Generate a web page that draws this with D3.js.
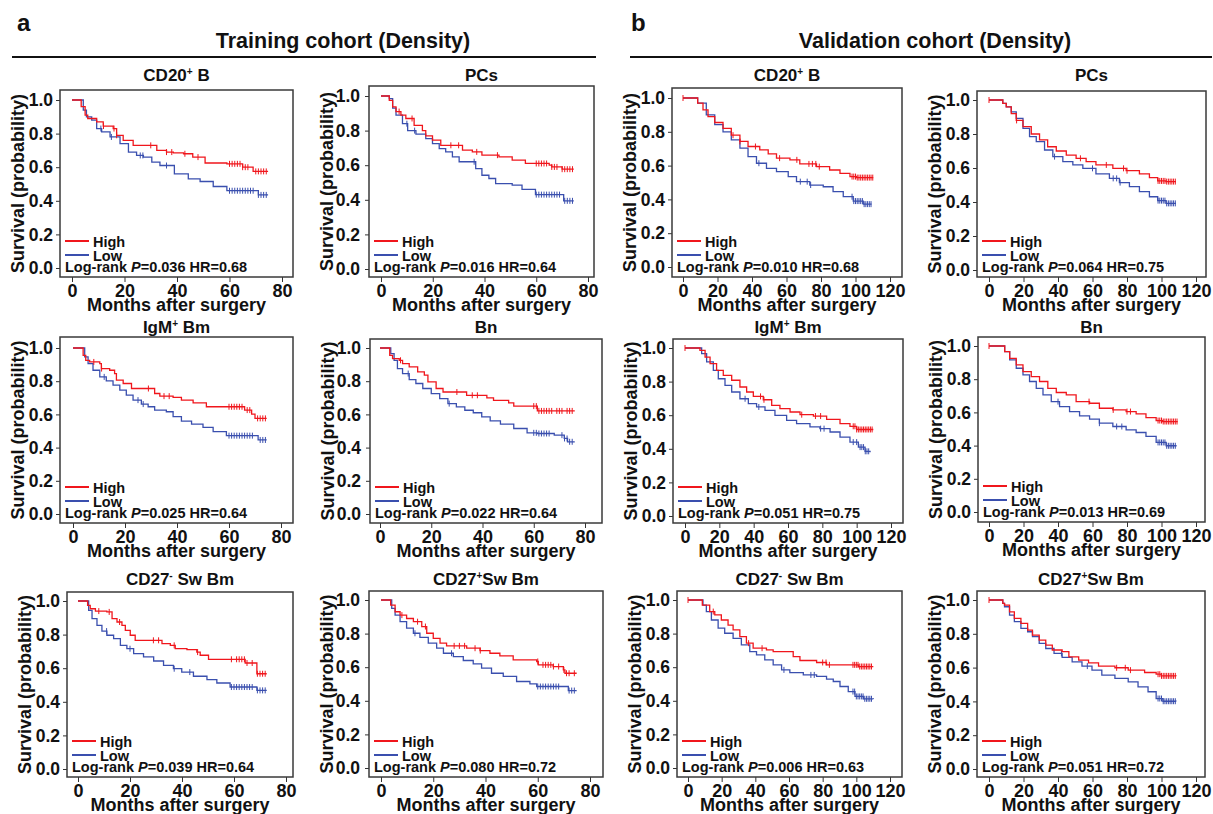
<!DOCTYPE html>
<html lang="en">
<head>
<meta charset="UTF-8">
<title>Training and validation cohort survival (Density)</title>
<style>
    body { margin: 0; background: #fff; }
    svg text { font-family: "Liberation Sans", Arial, sans-serif; font-weight: bold; fill: #111; }
</style>
</head>
<body>
<svg id="chart" width="1213" height="814"></svg>
<script src="https://d3js.org/d3.v7.min.js"></script>
<script>
// ---- data: [months, survival] step points, plus censor times ----
const cohortNames = ["Training cohort (Density)", "Validation cohort (Density)"];
const cohortLetters = ["a", "b"];
const panelTitles = [["CD20", "+", " B"], ["PCs"], ["IgM", "+", " Bm"], ["Bn"], ["CD27", "-", " Sw Bm"], ["CD27", "+", "Sw Bm"]];
const groupLabels = ["High", "Low"];
const yTicks = [0, 0.2, 0.4, 0.6, 0.8, 1.0];
const xMaxByCohort = [80, 120];

const trainP = ["0.036", "0.016", "0.025", "0.022", "0.039", "0.080"];
const trainHR = ["0.68", "0.64", "0.64", "0.64", "0.64", "0.72"];
const validP = ["0.010", "0.064", "0.051", "0.013", "0.006", "0.051"];
const validHR = ["0.68", "0.75", "0.75", "0.69", "0.63", "0.72"];

// training cohort
const trCD20High = [[0,1],[3.5,0.96],[5,0.91],[6,0.89],[9.4,0.87],[11.9,0.845],[15.7,0.83],[17,0.79],[19.5,0.76],[23.3,0.73],[32.3,0.70],[36,0.69],[38.6,0.685],[42.5,0.68],[46,0.66],[50.7,0.625],[59,0.62],[65,0.60],[69,0.575],[74.7,0.575]];
const trCD20Low = [[0,1],[4.3,0.94],[5.5,0.90],[7.5,0.88],[9.4,0.83],[11.3,0.81],[14.5,0.78],[18.3,0.74],[21.5,0.69],[24.6,0.67],[27.2,0.66],[30.4,0.63],[33.5,0.61],[39,0.56],[44.3,0.53],[48.8,0.515],[53.8,0.485],[59,0.46],[71,0.435],[74.7,0.435]];
const trPCsHigh = [[0,1],[3.2,0.975],[4.5,0.937],[5.8,0.91],[7.7,0.89],[9.6,0.87],[12.8,0.83],[16,0.80],[17.3,0.77],[19.9,0.745],[23.1,0.715],[31.5,0.687],[35.3,0.677],[39,0.658],[45.6,0.648],[50.7,0.629],[55.8,0.61],[65,0.60],[66,0.59],[70,0.577],[74.5,0.577]];
const trPCsLow = [[0,1],[3.2,0.985],[4.5,0.93],[5.8,0.89],[8.3,0.84],[10.3,0.80],[13.5,0.78],[17.3,0.754],[19.9,0.725],[22.5,0.696],[25,0.677],[27.6,0.648],[30.2,0.62],[36.6,0.58],[39,0.542],[41.7,0.523],[44.3,0.494],[50.7,0.485],[54.5,0.46],[59.7,0.43],[70.6,0.394],[74.5,0.394]];
const trIgMHigh = [[0,1],[3.9,0.956],[4.9,0.926],[6.4,0.916],[10.3,0.906],[10.9,0.876],[14.1,0.866],[16,0.846],[16.7,0.806],[19.3,0.786],[22.5,0.756],[31.4,0.726],[33.4,0.71],[38.5,0.702],[41.7,0.686],[46.2,0.67],[51.3,0.646],[66,0.626],[68.7,0.602],[70,0.576],[74.5,0.576]];
const trIgMLow = [[0,1],[4.5,0.946],[5.8,0.906],[7.7,0.866],[10.3,0.826],[12.8,0.802],[15.4,0.776],[18,0.746],[20.5,0.716],[23.1,0.686],[26.3,0.662],[28.9,0.646],[31.4,0.626],[35.9,0.616],[38.5,0.586],[41.7,0.56],[45.6,0.542],[50,0.522],[53.9,0.496],[59,0.472],[71.2,0.446],[74.5,0.446]];
const trBnHigh = [[0,1],[3.8,0.956],[4.9,0.936],[7.5,0.926],[8.8,0.906],[11.4,0.886],[14.7,0.856],[17.3,0.836],[18.7,0.796],[21.9,0.756],[24.6,0.735],[33.8,0.715],[41.7,0.70],[44.3,0.685],[50.2,0.669],[52.2,0.65],[61.4,0.621],[76,0.621]];
const trBnLow = [[0,1],[4.2,0.966],[5.5,0.926],[6.8,0.876],[8.8,0.846],[11.4,0.81],[14,0.786],[16.7,0.756],[20,0.725],[23.3,0.695],[26.5,0.665],[29.8,0.645],[33.1,0.625],[36.4,0.61],[39.7,0.585],[43,0.561],[47,0.541],[52.2,0.515],[57.4,0.489],[61.4,0.485],[68,0.475],[71.9,0.455],[73.2,0.435],[76,0.435]];
const trCD27nHigh = [[0,1],[3.7,0.974],[4.7,0.954],[6.7,0.94],[11.1,0.935],[13.1,0.895],[15,0.875],[16.9,0.855],[18.2,0.825],[20.1,0.796],[22,0.766],[32.3,0.746],[35.5,0.736],[37.4,0.716],[41.9,0.71],[45.7,0.696],[47,0.677],[50.2,0.653],[64.3,0.631],[68.8,0.567],[72.6,0.567]];
const trCD27nLow = [[0,1],[4.1,0.944],[5.4,0.895],[7.3,0.855],[9.2,0.821],[11.1,0.796],[13.7,0.776],[16.3,0.736],[18.8,0.716],[21.4,0.687],[25.2,0.667],[29.1,0.643],[32.9,0.617],[36.7,0.597],[39.9,0.577],[44.4,0.552],[49.6,0.532],[53.4,0.512],[58.5,0.488],[68.8,0.468],[72.6,0.468]];
const trCD27pHigh = [[0,1],[3.7,0.97],[5.4,0.93],[7.3,0.91],[9.8,0.89],[12.4,0.871],[15.6,0.842],[17.5,0.802],[20,0.772],[22.6,0.743],[25.1,0.727],[32.8,0.713],[37.9,0.699],[41.7,0.683],[45.5,0.667],[50.6,0.644],[59.6,0.634],[60.2,0.614],[65.9,0.604],[69.8,0.584],[70.4,0.564],[74.9,0.564]];
const trCD27pLow = [[0,1],[4.1,0.95],[5.4,0.91],[7.3,0.871],[9.8,0.832],[12.4,0.802],[14.9,0.778],[18.1,0.743],[21.3,0.713],[23.9,0.683],[27.7,0.663],[31.5,0.64],[35.3,0.62],[38.5,0.594],[42.3,0.564],[46.8,0.545],[51.9,0.515],[57,0.501],[59.6,0.485],[71.7,0.461],[74.9,0.461]];

// validation cohort
const vaCD20High = [[0,1],[8.5,0.97],[11.6,0.93],[14.5,0.89],[18.4,0.855],[23.2,0.82],[28,0.78],[33,0.743],[37.7,0.713],[44.5,0.693],[49.4,0.669],[54.2,0.644],[62,0.634],[67.7,0.61],[77.4,0.594],[85,0.574],[91,0.554],[96.8,0.535],[100.6,0.529],[110.3,0.529]];
const vaCD20Low = [[0,1],[8.5,0.97],[13.5,0.90],[18.4,0.842],[23.2,0.80],[28,0.752],[33,0.703],[37.7,0.653],[42.6,0.614],[48.4,0.584],[54.2,0.564],[61,0.535],[65.8,0.505],[73.5,0.485],[81.3,0.475],[87,0.446],[92.9,0.416],[98.7,0.39],[104.5,0.372],[109.3,0.372]];
const vaPCsHigh = [[0,1],[8,0.98],[10,0.96],[12.9,0.92],[15.8,0.88],[19.7,0.843],[24.5,0.80],[29.3,0.765],[34,0.725],[39,0.70],[44.8,0.676],[50.5,0.657],[56.3,0.637],[62,0.618],[71.8,0.598],[79.5,0.584],[87.2,0.565],[93,0.543],[97.8,0.524],[102.6,0.52],[108.4,0.52]];
const vaPCsLow = [[0,1],[8,0.98],[10,0.96],[12.9,0.93],[15.8,0.892],[19.7,0.833],[23.5,0.784],[27.4,0.755],[32.2,0.706],[37,0.667],[42.8,0.637],[48.6,0.618],[54.4,0.598],[62,0.565],[69.8,0.539],[75.6,0.514],[81.4,0.49],[87.2,0.461],[93,0.431],[97.8,0.408],[102.6,0.392],[108.4,0.392]];
const vaIgMHigh = [[0,1],[8.7,0.986],[11.7,0.946],[14.6,0.907],[18.4,0.867],[22.3,0.837],[27.2,0.808],[32,0.768],[35.9,0.738],[39.8,0.712],[45.6,0.692],[50.5,0.659],[55.3,0.639],[61.2,0.619],[67,0.603],[74.8,0.595],[82.5,0.575],[90.3,0.55],[96.1,0.534],[100,0.515],[109.7,0.515]];
const vaIgMLow = [[0,1],[9.7,0.966],[12.6,0.917],[16.5,0.867],[19.4,0.817],[23.3,0.778],[27.2,0.738],[32,0.698],[36.9,0.669],[41.7,0.649],[46.6,0.629],[52.4,0.599],[59.2,0.569],[65,0.55],[72.8,0.53],[78.6,0.52],[84.5,0.50],[90.3,0.47],[96.1,0.44],[101,0.41],[104.9,0.385],[107.8,0.38]];
const vaBnHigh = [[0,1],[9.1,0.966],[12,0.926],[15.8,0.886],[19.7,0.846],[24.5,0.816],[29.3,0.786],[34.1,0.745],[39,0.72],[44.8,0.705],[50.5,0.665],[58.3,0.655],[64,0.625],[71.8,0.615],[79.5,0.605],[85.3,0.591],[91,0.569],[96.9,0.551],[100.7,0.545],[109.4,0.545]];
const vaBnLow = [[0,1],[9.1,0.966],[12,0.916],[15.8,0.866],[19.7,0.826],[23.5,0.786],[27.4,0.745],[31.3,0.705],[36.1,0.665],[40.9,0.635],[46.7,0.605],[52.5,0.579],[58.3,0.559],[64,0.535],[71.8,0.515],[79.5,0.495],[85.3,0.479],[91,0.455],[96.9,0.419],[102.7,0.399],[108.4,0.395]];
const vaCD27nHigh = [[0,1],[8.5,0.97],[12.9,0.931],[15.9,0.911],[19.8,0.881],[23.8,0.851],[26.8,0.822],[30.8,0.782],[34.7,0.743],[38.7,0.713],[46.6,0.703],[50.6,0.693],[62.5,0.663],[66.5,0.64],[76.4,0.628],[82.3,0.614],[101.2,0.604],[110.1,0.604]];
const vaCD27nLow = [[0,1],[8.9,0.97],[10.9,0.931],[13.9,0.881],[17.9,0.832],[21.8,0.802],[26.8,0.772],[31.7,0.733],[36.7,0.693],[40.7,0.673],[45.6,0.644],[50.6,0.614],[55.6,0.584],[60.5,0.568],[68.5,0.554],[76.4,0.545],[82.3,0.529],[86.3,0.515],[90.3,0.485],[95.2,0.455],[99.2,0.426],[104.2,0.412],[110.1,0.41]];
const vaCD27pHigh = [[0,1],[8,0.98],[9,0.97],[11.9,0.93],[14.7,0.891],[18.5,0.862],[22.4,0.822],[25.2,0.792],[29.1,0.763],[32.9,0.733],[36.7,0.704],[42.4,0.694],[46.3,0.664],[52,0.644],[57.7,0.628],[63.5,0.609],[73,0.599],[80.7,0.585],[90.2,0.571],[96.9,0.561],[99.8,0.551],[108.4,0.549]];
const vaCD27pLow = [[0,1],[8,0.98],[9,0.96],[11.9,0.911],[14.7,0.872],[18.5,0.832],[22.4,0.812],[25.2,0.783],[29.1,0.743],[32.9,0.713],[37.7,0.684],[42.4,0.66],[48.2,0.634],[53.9,0.609],[59.7,0.585],[65.4,0.555],[73,0.536],[80.7,0.516],[86.4,0.486],[92.2,0.457],[96.9,0.417],[100.8,0.401],[108.4,0.40]];

// censor times (months)
const trCensHigh = [
    [12,16,17,30,36,38,43,48,60,61,62,63,64,65,66,67,70,71,72,73,74],
    [7,12,27,30,37,45,60,61,62,63,64,66,67,68,70,71,72,73,74],
    [8,11,29,35,37,60,61,62,63,64,65,67,68,71,72,73,74],
    [8,30,36,38,60,61,62,63,64,65,66,67,69,70,71,73,74,75],
    [8,12,16,29,31,37,46,59,61,62,63,64,65,67,69,70,71,72],
    [8,14,17,28,30,32,36,38,60,62,63,64,65,66,68,70,71,72,74]
];
const trCensLow = [
    [11,15,26,27,36,60,61,62,63,64,65,66,67,68,69,71,72,73,74],
    [10,13,36,60,61,62,63,64,65,66,67,68,69,71,72,73,74],
    [12,25,27,60,61,62,63,64,65,66,67,68,69,72,73,74],
    [11,27,60,61,62,63,64,65,66,71,72,73,74,75],
    [11,20,37,43,59,60,61,62,63,64,65,66,67,69,70,71,72],
    [13,27,60,61,62,63,64,65,66,67,68,72,73,74]
];
const vaCensHigh = [
    [0,29,33,42,56,66,73,75,77,79,98,99,100,101,102,103,104,105,106,107,108,109,110],
    [0,16,53,68,78,80,98,99,100,101,102,103,104,105,106,107,108],
    [0,44,46,68,76,79,98,99,100,101,102,103,104,105,106,107,108,109],
    [0,58,72,80,82,98,99,100,101,102,103,104,105,106,107,108,109],
    [0,15,36,44,80,82,84,98,99,100,101,102,103,104,105,106,107,108,109],
    [0,74,79,82,98,99,100,101,102,103,104,105,106,107,108]
];
const vaCensLow = [
    [44,68,72,74,98,99,100,101,102,103,104,105,106,107,108,109],
    [38,60,72,74,76,98,99,100,101,102,103,104,105,106,107,108],
    [35,43,79,81,98,100,102,103,104,105,106,107],
    [40,64,74,77,98,99,100,101,102,103,104,105,106,107,108],
    [57,73,75,98,99,100,101,102,103,104,105,106,107,108,109],
    [42,57,98,99,100,101,102,103,104,105,106,107,108]
];

const curvesHigh = [
    [trCD20High, trPCsHigh, trIgMHigh, trBnHigh, trCD27nHigh, trCD27pHigh],
    [vaCD20High, vaPCsHigh, vaIgMHigh, vaBnHigh, vaCD27nHigh, vaCD27pHigh]
];
const curvesLow = [
    [trCD20Low, trPCsLow, trIgMLow, trBnLow, trCD27nLow, trCD27pLow],
    [vaCD20Low, vaPCsLow, vaIgMLow, vaBnLow, vaCD27nLow, vaCD27pLow]
];
const censHigh = [trCensHigh, vaCensHigh];
const censLow = [trCensLow, vaCensLow];
const pVals = [trainP, validP];
const hrVals = [trainHR, validHR];

// ---- layout (pixels): plot box, x range, y range for each panel ----
const boxes = [
    [[60,90,293,277],[369,86,594,277],[60,337,293,523],[370,339,602,523],[67,592,293,777],[369,591,603,777]],
    [[672,88,902,277],[977,91,1206,277],[673,339,903,523],[978,337,1205,522],[677,591,902,777],[977,591,1205,777]]
];
const xPix = [
    [[72,282],[381,588],[73,281],[380,585],[78,286],[381,590]],
    [[683,890],[989,1196],[685,891],[989,1196],[688,890],[989,1196]]
];
const yPix = [
    [[100,268],[96,269],[348,514],[348,514],[601,769],[600,768]],
    [[98,267],[100,270],[348,516],[346,512],[600,768],[600,769]]
];
const titleBase = [81, 333, 585];
const colors = { High: "#f0161c", Low: "#3a4fae" };

const svg = d3.select("#chart");

// cohort headers
const headerX = [343, 935];
const headerLine = [[12, 596], [630, 1212]];
const letterX = [17, 631];
cohortNames.forEach((name, c) => {
    svg.append("text").attr("x", letterX[c]).attr("y", 31)
        .style("font-size", "24px").text(cohortLetters[c]);
    svg.append("text").attr("x", headerX[c]).attr("y", 48)
        .attr("text-anchor", "middle").style("font-size", "21.5px").text(name);
    svg.append("line")
        .attr("x1", headerLine[c][0]).attr("x2", headerLine[c][1])
        .attr("y1", 57).attr("y2", 57)
        .attr("stroke", "#111").attr("stroke-width", 2);
});

function survAt(steps, t) {
    let s = 1;
    for (const [tt, ss] of steps) {
        if (tt <= t) s = ss; else break;
    }
    return s;
}

for (let c = 0; c < 2; c++) {
    for (let i = 0; i < 6; i++) {
        const [l, t, r, b] = boxes[c][i];
        const xMax = xMaxByCohort[c];
        const x = d3.scaleLinear().domain([0, xMax]).range(xPix[c][i]);
        const y = d3.scaleLinear().domain([1, 0]).range(yPix[c][i]);
        const row = Math.floor(i / 2);
        const g = svg.append("g");
        const cx = (l + r) / 2;

        // panel title with superscript
        const tt = g.append("text").attr("x", cx).attr("y", titleBase[row])
            .attr("text-anchor", "middle").style("font-size", "17px");
        const parts = panelTitles[i];
        tt.append("tspan").text(parts[0]);
        if (parts.length > 1) {
            tt.append("tspan").attr("dy", -6).style("font-size", "10px").text(parts[1]);
            tt.append("tspan").attr("dy", 6).text(parts[2]);
        }

        // y axis
        const yAxis = g.append("g").attr("transform", `translate(${l},0)`)
            .call(d3.axisLeft(y).tickValues(yTicks).tickFormat(d3.format(".1f"))
                .tickSize(4).tickSizeOuter(0).tickPadding(i % 2 === 1 && c === 0 ? 5 : 3));
        yAxis.select(".domain").remove();
        yAxis.selectAll("text").style("font-size", "17.5px").attr("fill", "#111");
        yAxis.selectAll("line").attr("stroke", "#333");

        // x axis
        const xAxis = g.append("g").attr("transform", `translate(0,${b})`)
            .call(d3.axisBottom(x).tickValues(d3.range(0, xMax + 1, 20))
                .tickSize(5).tickSizeOuter(0).tickPadding(2));
        xAxis.select(".domain").remove();
        xAxis.selectAll("text").style("font-size", "18px").attr("fill", "#111");
        xAxis.selectAll("line").attr("stroke", "#333");

        // box
        g.append("rect").attr("x", l).attr("y", t)
            .attr("width", r - l).attr("height", b - t)
            .attr("fill", "none").attr("stroke", "#3a3a3a").attr("stroke-width", 1.5);

        // axis titles
        g.append("text").attr("x", cx).attr("y", b + 34)
            .attr("text-anchor", "middle").style("font-size", "18px")
            .text("Months after surgery");
        g.append("text")
            .attr("transform", `translate(${l - 42},${(t + b) / 2}) rotate(-90)`)
            .attr("text-anchor", "middle").attr("dy", "0.35em")
            .style("font-size", "18px").text("Survival (probability)");

        // curves
        const line = d3.line().x(d => x(d[0])).y(d => y(d[1])).curve(d3.curveStepAfter);
        const series = [
            { key: "Low", steps: curvesLow[c][i], cens: censLow[c][i] },
            { key: "High", steps: curvesHigh[c][i], cens: censHigh[c][i] }
        ];
        series.forEach(sr => {
            g.append("path").attr("d", line(sr.steps))
                .attr("fill", "none").attr("stroke", colors[sr.key]).attr("stroke-width", 1.3);
            g.selectAll(null).data(sr.cens).enter().append("line")
                .attr("x1", d => x(d)).attr("x2", d => x(d))
                .attr("y1", d => y(survAt(sr.steps, d)) - 3)
                .attr("y2", d => y(survAt(sr.steps, d)) + 3)
                .attr("stroke", colors[sr.key]).attr("stroke-width", 1);
        });

        // legend
        groupLabels.forEach((lab, k) => {
            const ly = b - 36 + k * 14;
            g.append("line").attr("x1", l + 5).attr("x2", l + 29)
                .attr("y1", ly).attr("y2", ly)
                .attr("stroke", colors[lab]).attr("stroke-width", 2);
            g.append("text").attr("x", l + 33).attr("y", ly + 6)
                .style("font-size", "14.5px").text(lab);
        });
        const lr = g.append("text").attr("x", l + 5).attr("y", b - 5).style("font-size", "14.5px");
        lr.append("tspan").text("Log-rank ");
        lr.append("tspan").style("font-style", "italic").text("P");
        lr.append("tspan").text(`=${pVals[c][i]} HR=${hrVals[c][i]}`);
    }
}
</script>
</body>
</html>
